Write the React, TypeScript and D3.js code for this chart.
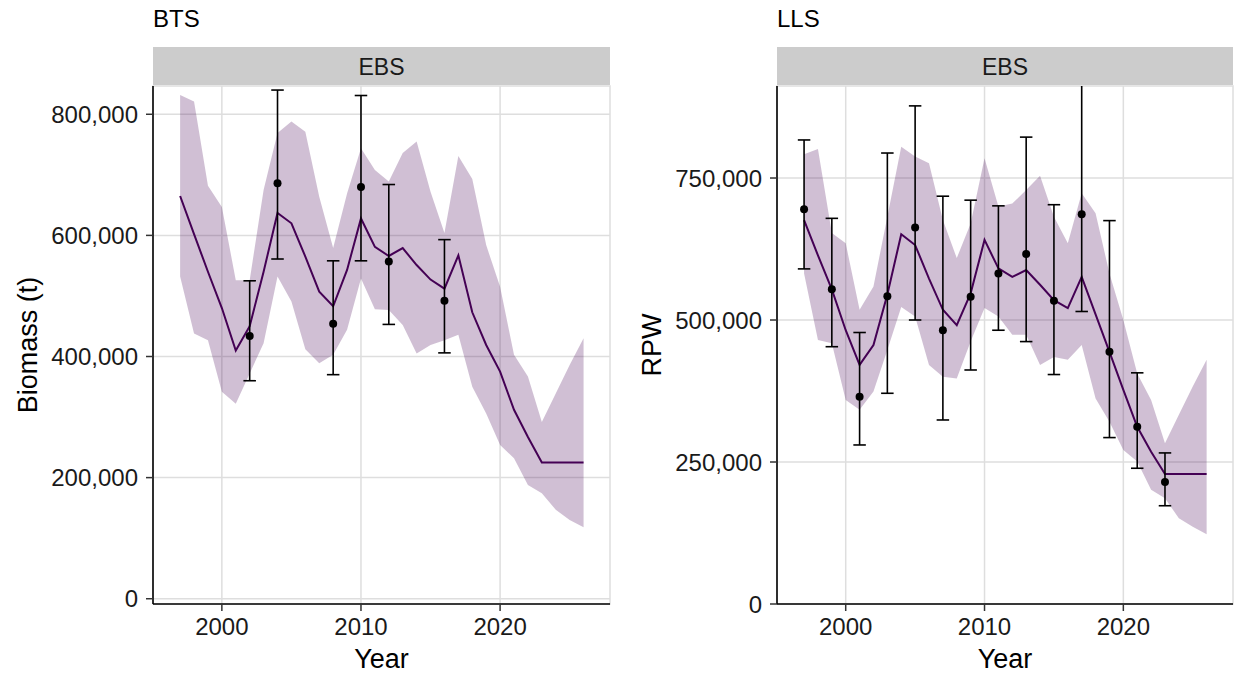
import React from "react";
import * as d3 from "d3";

// values in thousands (t / RPW)
const years = [1997, 1998, 1999, 2000, 2001, 2002, 2003, 2004, 2005, 2006, 2007, 2008, 2009, 2010, 2011,
  2012, 2013, 2014, 2015, 2016, 2017, 2018, 2019, 2020, 2021, 2022, 2023, 2024, 2025, 2026];

const btsFit = [665, 602, 540, 480, 410, 450, 540, 637, 620, 565, 507, 483, 543, 628, 581,
  566, 579, 551, 527, 512, 567, 473, 419, 375, 312, 267, 225, 225, 225, 225];
const btsUpper = [832, 821, 682, 647, 526, 526, 675, 769, 788, 771, 664, 579, 669, 744, 708,
  689, 736, 755, 672, 604, 731, 693, 584, 515, 403, 367, 292, 339, 386, 430];
const btsLower = [532, 438, 427, 342, 322, 372, 422, 532, 491, 412, 389, 403, 444, 529, 478,
  477, 452, 405, 419, 427, 436, 350, 306, 254, 232, 188, 174, 147, 130, 118];

const btsObsYears = [2002, 2004, 2008, 2010, 2012, 2016];
const btsObs = [434, 686, 454, 680, 557, 492];
const btsObsUpper = [525, 840, 558, 831, 684, 593];
const btsObsLower = [360, 561, 370, 558, 453, 406];

const llsFit = [676, 614, 554, 482, 421, 456, 545, 651, 632, 573, 518, 491, 547, 641, 591,
  576, 588, 562, 535, 521, 576, 510, 444, 377, 312, 268, 229, 229, 229, 229];
const llsUpper = [792, 801, 653, 635, 518, 559, 682, 805, 788, 776, 676, 609, 670, 785, 700,
  705, 729, 754, 682, 635, 723, 688, 582, 500, 406, 359, 283, 333, 383, 430];
const llsLower = [582, 465, 459, 359, 342, 374, 447, 523, 506, 421, 400, 397, 462, 521, 506,
  474, 474, 421, 435, 430, 456, 362, 321, 271, 251, 201, 186, 151, 136, 123];

const llsObsYears = [1997, 1999, 2001, 2003, 2005, 2007, 2009, 2011, 2013, 2015, 2017, 2019, 2021, 2023];
const llsObs = [695, 554, 365, 542, 663, 482, 541, 582, 616, 534, 686, 444, 312, 215];
const llsObsUpper = [817, 679, 478, 794, 877, 718, 711, 701, 822, 703, 960, 675, 407, 266];
const llsObsLower = [590, 453, 280, 371, 500, 324, 412, 482, 462, 404, 515, 293, 239, 173];

const xTicks = [2000, 2010, 2020];
const btsTicks = [0, 200, 400, 600, 800];
const llsTicks = [0, 250, 500, 750];

const font = "'Liberation Sans', Arial, sans-serif";
const purple = "#440154";

type PanelProps = {
  id: string;
  title: string;
  yLabel: string;
  left: number;
  right: number;
  yDomain: [number, number];
  yTicks: number[];
  fit: number[];
  upper: number[];
  lower: number[];
  obsYears: number[];
  obs: number[];
  obsUpper: number[];
  obsLower: number[];
  yLabelX: number;
};

const top = 86, bottom = 604;

function Panel(p: PanelProps) {
  const x = d3.scaleLinear().domain([1995.05, 2027.9]).range([p.left, p.right]);
  const y = d3.scaleLinear().domain(p.yDomain).range([bottom, top]);
  const fmt = (v: number) => d3.format(",")(v * 1000);

  const area = d3.area<number>()
    .x((_, i) => x(years[i]))
    .y0((_, i) => y(p.lower[i]))
    .y1((_, i) => y(p.upper[i]));
  const line = d3.line<number>()
    .x((_, i) => x(years[i]))
    .y(d => y(d));

  const capHalf = x(0.45) - x(0);

  return (
    <g>
      <defs>
        <clipPath id={`clip-${p.id}`}>
          <rect x={p.left} y={top} width={p.right - p.left} height={bottom - top} />
        </clipPath>
      </defs>
      <text x={p.left} y={27} fontSize={24} fill="#000">{p.title}</text>
      <rect x={p.left} y={47} width={p.right - p.left} height={38} fill="#cccccc" />
      <text x={(p.left + p.right) / 2} y={75} fontSize={23} textAnchor="middle" fill="#1a1a1a">EBS</text>

      {/* grid */}
      {p.yTicks.map(t => (
        <line key={"gy" + t} x1={p.left} x2={p.right} y1={y(t)} y2={y(t)} stroke="#dedede" strokeWidth={1.5} />
      ))}
      {xTicks.map(t => (
        <line key={"gx" + t} x1={x(t)} x2={x(t)} y1={top} y2={bottom} stroke="#dedede" strokeWidth={1.5} />
      ))}
      <rect x={p.left} y={top} width={p.right - p.left} height={bottom - top} fill="none" stroke="#dedede" strokeWidth={1.5} />

      <g clipPath={`url(#clip-${p.id})`}>
        <path d={area(p.fit) || ""} fill={purple} fillOpacity={0.25} />
        <path d={line(p.fit) || ""} fill="none" stroke={purple} strokeWidth={2} />
        {p.obsYears.map((yr, i) => (
          <g key={yr} stroke="#000" strokeWidth={1.6}>
            <line x1={x(yr)} x2={x(yr)} y1={y(p.obsLower[i])} y2={y(p.obsUpper[i])} />
            <line x1={x(yr) - capHalf} x2={x(yr) + capHalf} y1={y(p.obsLower[i])} y2={y(p.obsLower[i])} />
            <line x1={x(yr) - capHalf} x2={x(yr) + capHalf} y1={y(p.obsUpper[i])} y2={y(p.obsUpper[i])} />
            <circle cx={x(yr)} cy={y(p.obs[i])} r={4} fill="#000" stroke="none" />
          </g>
        ))}
      </g>

      {/* axes */}
      <line x1={p.left} x2={p.left} y1={top} y2={bottom} stroke="#000" strokeWidth={1.6} />
      <line x1={p.left} x2={p.right} y1={bottom} y2={bottom} stroke="#000" strokeWidth={1.6} />
      {p.yTicks.map(t => (
        <g key={"ty" + t}>
          <line x1={p.left - 7} x2={p.left} y1={y(t)} y2={y(t)} stroke="#333" strokeWidth={1.5} />
          <text x={p.left - 15} y={y(t)} dy="0.36em" textAnchor="end" fontSize={24} fill="#1a1a1a">{fmt(t)}</text>
        </g>
      ))}
      {xTicks.map(t => (
        <g key={"tx" + t}>
          <line x1={x(t)} x2={x(t)} y1={bottom} y2={bottom + 7} stroke="#333" strokeWidth={1.5} />
          <text x={x(t)} y={635} textAnchor="middle" fontSize={24} fill="#1a1a1a">{t}</text>
        </g>
      ))}
      <text x={(p.left + p.right) / 2} y={668} textAnchor="middle" fontSize={27} fill="#000">Year</text>
      <text transform={`translate(${p.yLabelX},${(top + bottom) / 2}) rotate(-90)`} textAnchor="middle"
        fontSize={27} fill="#000">{p.yLabel}</text>
    </g>
  );
}

export default function App() {
  return (
    <svg width={1238} height={674} style={{ position: "absolute", left: 0, top: 0, background: "#fff" }}
      fontFamily={font}>
      <rect width={1238} height={674} fill="#fff" />
      <Panel id="bts" title="BTS" yLabel="Biomass (t)" left={153} right={610} yDomain={[-8.7, 846.7]}
        yTicks={btsTicks} fit={btsFit} upper={btsUpper} lower={btsLower}
        obsYears={btsObsYears} obs={btsObs} obsUpper={btsObsUpper} obsLower={btsObsLower} yLabelX={37} />
      <Panel id="lls" title="LLS" yLabel="RPW" left={777} right={1233} yDomain={[0, 912]}
        yTicks={llsTicks} fit={llsFit} upper={llsUpper} lower={llsLower}
        obsYears={llsObsYears} obs={llsObs} obsUpper={llsObsUpper} obsLower={llsObsLower} yLabelX={661} />
    </svg>
  );
}
